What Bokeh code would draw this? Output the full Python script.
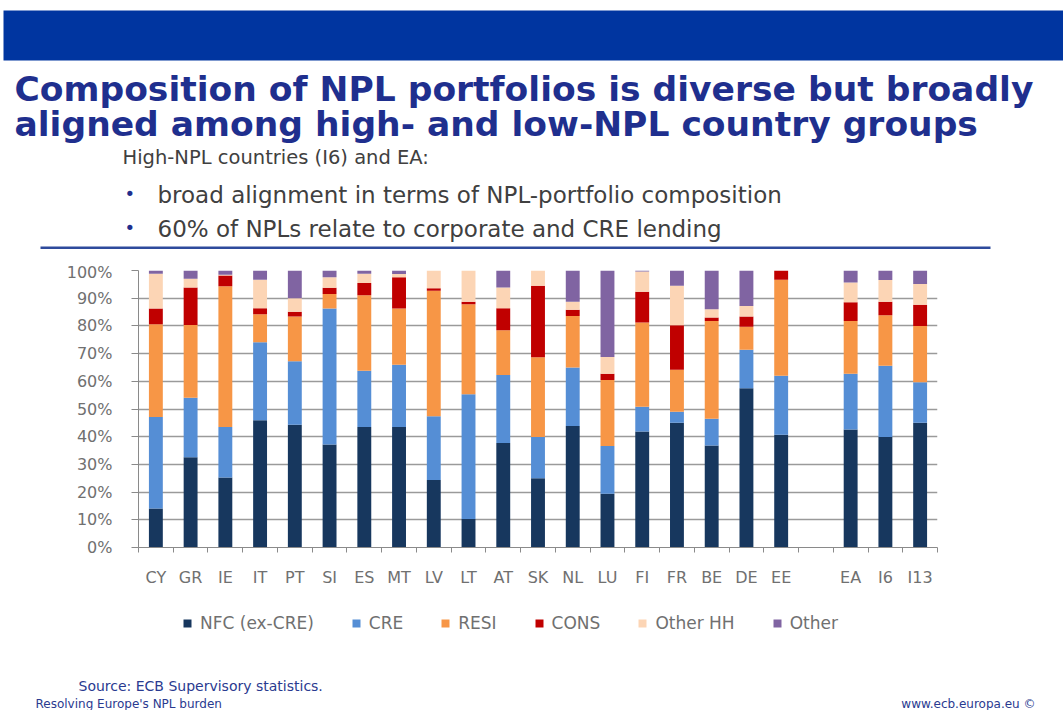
from bokeh.plotting import figure
from bokeh.layouts import column
from bokeh.models import (ColumnDataSource, Range1d, FixedTicker, PrintfTickFormatter,
                          Label, BoxAnnotation, Legend, LegendItem)
from bokeh.embed import file_html
from bokeh.resources import INLINE

# ---------------- data (shares of NPLs, %) ----------------
countries = ["CY", "GR", "IE", "IT", "PT", "SI", "ES", "MT", "LV", "LT", "AT",
             "SK", "NL", "LU", "FI", "FR", "BE", "DE", "EE", "EA", "I6", "I13"]
nfc      = [14.1, 32.6, 25.3, 45.9, 44.3, 37.2, 43.5, 43.5, 24.4, 10.3, 37.7,
            25.0, 43.9, 19.4, 41.9, 45.0, 36.8, 57.5, 40.7, 42.6, 39.9, 45.0]
cre      = [33.0, 21.5, 18.2, 28.2, 22.9, 49.1, 20.3, 22.5, 23.0, 45.0, 24.6,
            14.9, 21.1, 17.2, 8.9, 4.0, 9.7, 13.9, 21.3, 20.1, 25.7, 14.7]
resi     = [33.5, 26.2, 50.8, 10.1, 16.2, 5.2, 27.3, 20.3, 45.3, 32.5, 16.1,
            28.8, 18.6, 23.9, 30.4, 15.2, 35.3, 8.3, 34.7, 19.1, 18.2, 20.3]
cons     = [5.7, 13.6, 3.9, 2.2, 1.7, 2.3, 4.4, 11.3, 0.9, 0.9, 8.0,
            25.8, 2.2, 2.2, 11.1, 16.0, 1.2, 3.7, 3.3, 6.7, 4.9, 7.6]
other_hh = [12.5, 3.1, 0.3, 10.3, 4.9, 3.8, 3.3, 1.1, 6.4, 11.3, 7.5,
            5.5, 2.9, 6.1, 7.3, 14.3, 3.0, 3.8, 0.0, 7.2, 7.9, 7.5]
other    = [1.2, 3.0, 1.5, 3.3, 10.0, 2.4, 1.2, 1.3, 0.0, 0.0, 6.1,
            0.0, 11.3, 31.2, 0.4, 5.5, 14.0, 12.8, 0.0, 4.3, 3.4, 4.9]

series_names = ["NFC (ex-CRE)", "CRE", "RESI", "CONS", "Other HH", "Other"]
series_keys = ["nfc", "cre", "resi", "cons", "other_hh", "other"]
colors = ["#17375E", "#558ED5", "#F79646", "#C00000", "#FCD5B5", "#8064A2"]
y_ticks = [0, 10, 20, 30, 40, 50, 60, 70, 80, 90, 100]

# slot positions: one empty slot between EE and the aggregates
gap_after = countries.index("EE")
x_pos = [i if i <= gap_after else i + 1 for i in range(len(countries))]
n_slots = len(countries) + 1

source = ColumnDataSource(dict(x=x_pos, nfc=nfc, cre=cre, resi=resi, cons=cons,
                               other_hh=other_hh, other=other))

W = 1063
H_HEAD, H_CHART, H_FOOT = 262, 343, 105
TITLE = "#1F2F8E"
DARK = "#404040"
NAVY = "#2A3A90"
GRAY = "#8a8a8a"
TXT = "#707070"


def no_align(f):
    try:
        f.frame_align = False
    except Exception:
        pass


def canvas(height, top):
    f = figure(width=W, height=height, output_backend="svg", toolbar_location=None,
               x_range=Range1d(0, W), y_range=Range1d(top + height, top),
               x_axis_type=None, y_axis_type=None, min_border=0,
               background_fill_color="white", border_fill_color="white")
    f.outline_line_color = None
    f.xgrid.visible = False
    f.ygrid.visible = False
    no_align(f)
    return f


def txt(f, s, X, Y, size, color, font="DejaVu Sans", style="normal", align="left"):
    f.add_layout(Label(x=X, y=Y, text=s, text_font=font, text_font_size=f"{size}px",
                       text_color=color, text_font_style=style, text_align=align,
                       text_baseline="middle"))


# ---------------- header ----------------
head = canvas(H_HEAD, 0)
head.add_layout(BoxAnnotation(left=3, right=W, top=10, bottom=60, fill_color="#0035A0",
                              fill_alpha=1, line_color=None))
head.add_layout(BoxAnnotation(left=40, right=990, top=246, bottom=248.5, fill_color="#2E4A9C",
                              fill_alpha=1, line_color=None))
txt(head, "Composition of NPL portfolios is diverse but broadly", 14, 88, 34.5, TITLE, style="bold")
txt(head, "aligned among high- and low-NPL country groups", 14, 123, 34.5, TITLE, style="bold")
txt(head, "High-NPL countries (I6) and EA:", 122, 157, 19.5, DARK)
txt(head, "\u2022", 124, 193, 18, TITLE)
txt(head, "broad alignment in terms of NPL-portfolio composition", 157, 194, 23, DARK)
txt(head, "\u2022", 124, 227, 18, TITLE)
txt(head, "60% of NPLs relate to corporate and CRE lending", 157, 228, 23, DARK)

# ---------------- chart ----------------
p = figure(width=W, height=H_CHART, output_backend="svg", toolbar_location=None,
           x_range=Range1d(-0.5, n_slots - 0.5), y_range=Range1d(0, 100),
           min_border_left=138, min_border_right=126, min_border_top=8,
           min_border_bottom=58, background_fill_color="white",
           border_fill_color="white")
p.outline_line_color = None
no_align(p)

renderers = p.vbar_stack(series_keys, x="x", width=0.4, fill_color=colors,
                         line_color=None, source=source)

p.xgrid.grid_line_color = None
p.ygrid.grid_line_color = "#9a9a9a"
p.ygrid.grid_line_width = 1.3
p.yaxis.ticker = FixedTicker(ticks=y_ticks)
p.yaxis.formatter = PrintfTickFormatter(format="%d%%")
p.yaxis.axis_line_color = GRAY
p.yaxis.major_tick_line_color = GRAY
p.yaxis.major_tick_out = 7
p.yaxis.major_tick_in = 0
p.yaxis.minor_tick_line_color = None
p.yaxis.major_label_standoff = 19
p.yaxis.major_label_text_font = "DejaVu Sans"
p.yaxis.major_label_text_font_size = "16px"
p.yaxis.major_label_text_color = TXT

boundaries = [b - 0.5 for b in range(n_slots + 1)]
p.xaxis.ticker = FixedTicker(ticks=x_pos, minor_ticks=boundaries)
p.xaxis.major_label_overrides = {x: c for x, c in zip(x_pos, countries)}
p.xaxis.axis_line_color = GRAY
p.xaxis.major_tick_line_color = None
p.xaxis.major_tick_out = 0
p.xaxis.major_tick_in = 0
p.xaxis.minor_tick_line_color = GRAY
p.xaxis.minor_tick_out = 5
p.xaxis.minor_tick_in = 0
p.xaxis.major_label_standoff = 15
p.xaxis.major_label_text_font = "DejaVu Sans"
p.xaxis.major_label_text_font_size = "16px"
p.xaxis.major_label_text_color = TXT

# ---------------- footer (legend + source) ----------------
top_foot = H_HEAD + H_CHART
foot = canvas(H_FOOT, top_foot)
# same stacked series on ranges that keep them out of this strip: they only feed the legend swatches
foot.extra_x_ranges = {"off": Range1d(1000, 2000)}
foot.extra_y_ranges = {"off": Range1d(1000, 2000)}
legend_renderers = foot.vbar_stack(series_keys, x="x", width=0.4, fill_color=colors,
                                   line_color=None, source=source,
                                   x_range_name="off", y_range_name="off")
legend = Legend(items=[LegendItem(label=n, renderers=[r])
                       for n, r in zip(series_names, legend_renderers)],
                orientation="horizontal", location=(182, H_FOOT - (633 - top_foot)),
                border_line_color=None, background_fill_alpha=0, padding=0, margin=0,
                spacing=37, label_standoff=8, glyph_width=10, glyph_height=10,
                label_height=16, label_text_font="DejaVu Sans", label_text_font_size="17px",
                label_text_color=TXT)
foot.add_layout(legend, "center")
txt(foot, "Source: ECB Supervisory statistics.", 78, 685, 14, NAVY)
txt(foot, "Resolving Europe's NPL burden", 35, 703, 12, NAVY)
txt(foot, "www.ecb.europa.eu \u00a9", 1035, 703, 12, NAVY, align="right")

layout = column(head, p, foot, spacing=0)
open("out.html", "w").write(file_html(layout, INLINE))
